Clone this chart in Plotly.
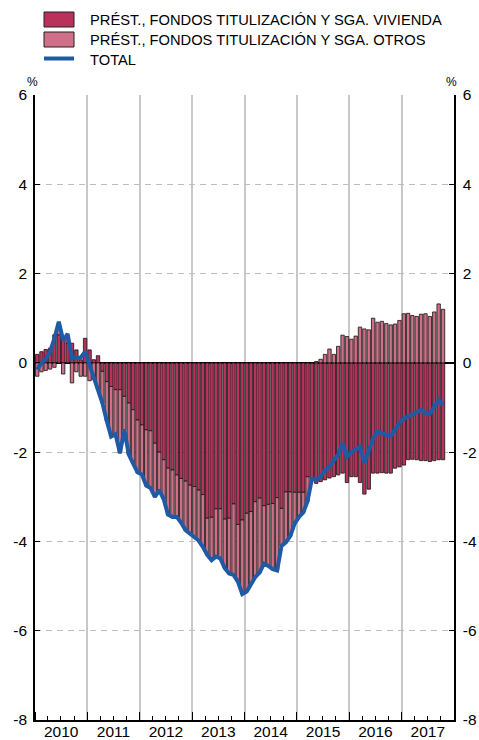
import pandas as pd
import plotly.graph_objects as go

# Monthly series, January 2010 - October 2017 (percent)
months = pd.date_range("2010-01-01", periods=94, freq="MS")

vivienda = [
    0.19, 0.25, 0.30, 0.33, 0.63, 0.63, 0.55, 0.44, 0.44, 0.29, 0.07, 0.55,
    0.29, 0.07, 0.16, -0.19, -0.42, -0.53, -0.60, -0.60, -0.75, -0.90, -1.05, -1.28,
    -1.39, -1.50, -1.52, -1.80, -2.00, -2.17, -2.36, -2.40, -2.51, -2.59, -2.65, -2.74,
    -2.77, -2.85, -2.95, -3.48, -3.46, -3.27, -3.27, -3.50, -3.48, -3.16, -3.62, -3.52,
    -3.37, -3.33, -3.11, -3.03, -3.20, -3.17, -3.15, -3.02, -3.26, -2.89, -2.89, -2.90,
    -2.90, -2.90, -2.55, -2.60, -2.70, -2.66, -2.62, -2.58, -2.55, -2.51, -2.47, -2.68,
    -2.55, -2.55, -2.68, -2.94, -2.83, -2.47, -2.47, -2.46, -2.47, -2.47, -2.36, -2.33,
    -2.29, -2.17, -2.16, -2.17, -2.19, -2.19, -2.21, -2.19, -2.17, -2.17,
]

otros = [
    -0.30, -0.20, -0.17, -0.14, -0.10, 0.25, -0.25, 0.15, -0.45, -0.20, -0.30, -0.30,
    -0.40, -0.37, -0.60, -0.71, -0.88, -1.12, -1.00, -1.42, -0.75, -1.15, -1.20, -1.17,
    -1.11, -1.25, -1.28, -1.20, -0.85, -0.88, -1.04, -1.05, -0.94, -0.99, -1.10, -1.08,
    -1.13, -1.13, -1.17, -0.82, -0.96, -1.07, -1.11, -1.10, -1.24, -1.59, -1.28, -1.66,
    -1.75, -1.62, -1.69, -1.67, -1.30, -1.38, -1.47, -1.63, -0.84, -1.13, -0.99, -0.70,
    -0.55, -0.45, -0.55, 0.00, 0.03, 0.08, 0.19, 0.31, 0.19, 0.37, 0.62, 0.59,
    0.53, 0.60, 0.80, 0.76, 0.74, 1.00, 0.91, 0.93, 0.88, 0.85, 0.87, 0.95,
    1.10, 1.11, 1.06, 1.04, 1.09, 1.10, 1.04, 1.14, 1.32, 1.20,
]

total = [
    -0.15, 0.00, 0.08, 0.25, 0.55, 0.92, 0.50, 0.65, 0.10, 0.10, 0.12, 0.25,
    -0.05, -0.30, -0.56, -0.90, -1.30, -1.65, -1.60, -2.02, -1.50, -2.05, -2.25, -2.45,
    -2.50, -2.75, -2.80, -3.00, -2.85, -3.05, -3.40, -3.45, -3.45, -3.58, -3.75, -3.82,
    -3.90, -3.98, -4.12, -4.30, -4.42, -4.34, -4.38, -4.60, -4.72, -4.75, -4.90, -5.18,
    -5.12, -4.95, -4.80, -4.70, -4.50, -4.55, -4.62, -4.65, -4.10, -4.02, -3.88, -3.60,
    -3.45, -3.35, -3.10, -2.60, -2.62, -2.55, -2.40, -2.33, -2.20, -2.05, -1.80, -2.10,
    -2.00, -1.95, -1.88, -2.25, -1.95, -1.69, -1.54, -1.57, -1.60, -1.64, -1.50, -1.35,
    -1.25, -1.20, -1.15, -1.10, -1.05, -1.12, -1.15, -0.98, -0.83, -0.94,
]

series_names = [
    "PRÉST., FONDOS TITULIZACIÓN Y SGA. VIVIENDA",
    "PRÉST., FONDOS TITULIZACIÓN Y SGA. OTROS",
    "TOTAL",
]
y_ticks = [-8, -6, -4, -2, 0, 2, 4, 6]
y_tick_text = [str(v) for v in y_ticks]

DARK = "#b8325c"
LIGHT = "#cf7088"
BLUE = "#1f5aa6"
FONT = "Liberation Sans, Arial, sans-serif"

fig = go.Figure()
fig.add_trace(go.Bar(
    x=months, y=vivienda, name=series_names[0],
    xperiod="M1", xperiodalignment="middle",
    marker=dict(color=DARK, line=dict(color="#111111", width=0.8)),
    showlegend=False,
))
fig.add_trace(go.Bar(
    x=months, y=otros, name=series_names[1],
    xperiod="M1", xperiodalignment="middle",
    marker=dict(color=LIGHT, line=dict(color="#111111", width=0.8)),
    showlegend=False,
))
fig.add_trace(go.Scatter(
    x=months, y=total, name=series_names[2], yaxis="y2",
    xperiod="M1", xperiodalignment="middle",
    mode="lines", line=dict(color=BLUE, width=4),
    showlegend=False,
))

yax_common = dict(
    range=[-8, 6], tickmode="array", tickvals=y_ticks, ticktext=y_tick_text,
    ticks="inside", ticklen=5, tickcolor="black", tickwidth=1,
    showline=True, linecolor="black", linewidth=1.5,
    tickfont=dict(family=FONT, size=15.5, color="black"),
    automargin=False, fixedrange=True,
)

fig.update_layout(
    width=479, height=740,
    margin=dict(l=35, r=25, t=95, b=20),
    paper_bgcolor="white", plot_bgcolor="white",
    barmode="relative", bargap=0.2,
    font=dict(family=FONT, color="black"),
    xaxis=dict(
        type="date", range=["2010-01-01", "2018-01-01"],
        dtick="M12", tick0="2010-01-01", tickformat="%Y",
        ticklabelmode="period", ticklabelstandoff=-3,
        ticks="inside", ticklen=8, tickcolor="black", tickwidth=1.2,
        showgrid=True, gridcolor="#c8c8c8", gridwidth=1.5,
        showline=True, linecolor="black", linewidth=1.5,
        tickfont=dict(family=FONT, size=15.5, color="black"),
        minor=dict(ticks="inside", ticklen=4, dtick="M3", tick0="2010-01-01",
                   tickcolor="black", showgrid=False),
        zeroline=False, automargin=False,
    ),
    yaxis=dict(
        **yax_common, side="left", ticklabelstandoff=3,
        showgrid=True, gridcolor="#bdbdbd", gridwidth=1, griddash="6px,5px",
        zeroline=True, zerolinecolor="black", zerolinewidth=1.5,
    ),
    yaxis2=dict(
        **yax_common, side="right", overlaying="y", ticklabelstandoff=4,
        showgrid=False, zeroline=False,
    ),
)

# Percent unit markers above both axes
for xp in (-0.006, 0.993):
    fig.add_annotation(x=xp, y=1.021, xref="paper", yref="paper", text="%",
                       showarrow=False, font=dict(family=FONT, size=12, color="black"),
                       xanchor="center", yanchor="middle")

# Legend, drawn above the plot area
legend_rows = [(1.1328, 1.1088, DARK), (1.1008, 1.0768, LIGHT)]
for y0, y1, col in legend_rows:
    fig.add_shape(type="rect", xref="paper", yref="paper",
                  x0=0.0215, x1=0.0931, y0=y1, y1=y0,
                  fillcolor=col, line=dict(color="#222222", width=1))
fig.add_shape(type="line", xref="paper", yref="paper",
              x0=0.0215, x1=0.0931, y0=1.0584, y1=1.0584,
              line=dict(color=BLUE, width=4))
for name, yp in zip(series_names, (1.1196, 1.0880, 1.0568)):
    fig.add_annotation(x=0.1265, y=yp, xref="paper", yref="paper", text=name,
                       showarrow=False, xanchor="left", yanchor="middle",
                       font=dict(family=FONT, size=14.7, color="black"))

fig.write_html("out.html")
